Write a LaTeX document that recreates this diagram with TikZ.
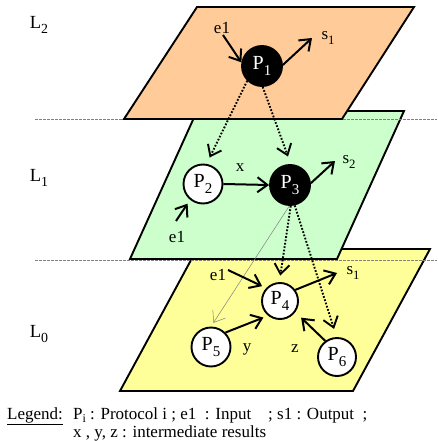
\documentclass[tikz,border=0pt]{standalone}
\usepackage{fontspec}
\setmainfont{Liberation Serif}
\usetikzlibrary{arrows.meta}
\definecolor{lorange}{HTML}{FFCC99}
\definecolor{lgreen}{HTML}{CCFFCC}
\definecolor{lyellow}{HTML}{FFFF99}
\newcommand\lsub[1]{\raisebox{-0.28em}{\scalebox{0.75}{#1}}}
\newcommand\legsub[1]{\raisebox{-0.18em}{\scalebox{0.7}{#1}}}
\begin{document}
\begin{tikzpicture}[x=1pt,y=-1pt,
  plane/.style={draw=black, line width=1.9pt, line join=miter},
  sep/.style={draw=gray, line width=0.7pt, dash pattern=on 2.5pt off 1.5pt},
  proc/.style={circle, draw=black, line width=1.9pt, inner sep=0pt, font=\fontsize{20}{22}\selectfont},
  bproc/.style={proc, fill=black, text=white},
  wproc/.style={proc, fill=white},
  lbl/.style={inner sep=0pt, font=\fontsize{17}{19}\selectfont},
  layer/.style={inner sep=0pt, font=\fontsize{18.5}{20}\selectfont},
  tip/.style={-{Straight Barb[length=10pt,width=15pt]}},
  arr/.style={tip, line width=2pt},
  dotarr/.style={tip, line width=1.9pt, dash pattern=on 1.7pt off 1.7pt},
  thinarr/.style={-{Straight Barb[length=10pt,width=15pt]}, draw=gray, line width=0.5pt}
]
\useasboundingbox (0,0) rectangle (437,441);

% planes
\draw[plane, fill=lyellow] (197,249) -- (430,249) -- (353,391) -- (120,391) -- cycle;
\draw[sep] (35,260) -- (437,260);
\draw[plane, fill=lgreen] (197,111) -- (404,111) -- (337,259) -- (130,259) -- cycle;
\draw[sep] (35,119.5) -- (437,119.5);
\draw[plane, fill=lorange] (197,7) -- (414,7) -- (342,119) -- (124,119) -- cycle;

% layer labels
\node[layer] (L2) at (39,25) {L\lsub{2}};
\node[layer] (L1) at (39,178) {L\lsub{1}};
\node[layer] (L0) at (39,334) {L\lsub{0}};

% protocols
\node[bproc, minimum size=40pt] (P1) at (262,66) {P\lsub{1}};
\node[wproc, minimum size=39pt] (P2) at (203,184) {P\lsub{2}};
\node[bproc, minimum size=40pt] (P3) at (290,185) {P\lsub{3}};
\node[wproc, minimum size=36pt] (P4) at (280,301) {P\lsub{4}};
\node[wproc, minimum size=39pt] (P5) at (211,347) {P\lsub{5}};
\node[wproc, minimum size=38pt] (P6) at (337,357) {P\lsub{6}};

% labels
\node[lbl] (ea) at (222,28) {e1};
\node[lbl] (eb) at (177,237) {e1};
\node[lbl] (ec) at (218,275) {e1};
\node[lbl] (sa) at (328,38) {s\lsub{1}};
\node[lbl] (sb) at (349,162) {s\lsub{2}};
\node[lbl] (sc) at (353,273) {s\lsub{1}};
\node[lbl] (lx) at (240,168) {x};
\node[lbl] (ly) at (247,349) {y};
\node[lbl] (lz) at (295,349) {z};

% free ends
\coordinate (ea0) at (223,35);
\coordinate (eb0) at (176,221);
\coordinate (ec0) at (228,270);
\coordinate (sa0) at (312,38);
\coordinate (sb0) at (335,161);
\coordinate (sc0) at (337,273);

% connectors
\draw[arr] (ea0) -- (P1.170);
\draw[arr] (P1.3) -- (sa0);
\draw[dotarr, shorten >=7pt] (P1.225) -- (P2.80);
\draw[dotarr, shorten >=8pt] (P1.272) -- (P3.88);
\draw[arr] (P2.east) -- (P3.west);
\draw[arr, shorten >=4.5pt] (eb0) -- (P2.231);
\draw[arr] (P3.5) -- (sb0);
\draw[thinarr, shorten >=4.5pt] (P3.268) -- (P5.90);
\draw[dotarr, shorten >=6.5pt] (P3.272) -- (P4.92);
\draw[dotarr, shorten >=8.5pt] (P3.283) -- (P6.91);
\draw[arr, shorten >=4.5pt] (ec0) -- (P4.137);
\draw[arr] (P4.36) -- (sc0);
\draw[arr, shorten >=5pt] (P5.45) -- (P4.231);
\draw[arr, shorten >=8pt] (P6.126) -- (P4.324);

% legend
\node[lbl, anchor=base west] (leg) at (7,419) {\underline{Legend:}};
\node[lbl, anchor=base west] (leg1) at (73,419) {P\legsub{i} : Protocol i ; e1\ \ : Input\ \ \ \ ; s1 : Output\ \ ;};
\node[lbl, anchor=base west] (leg2) at (73,437.5) {x , y, z : intermediate results};
\end{tikzpicture}
\end{document}
